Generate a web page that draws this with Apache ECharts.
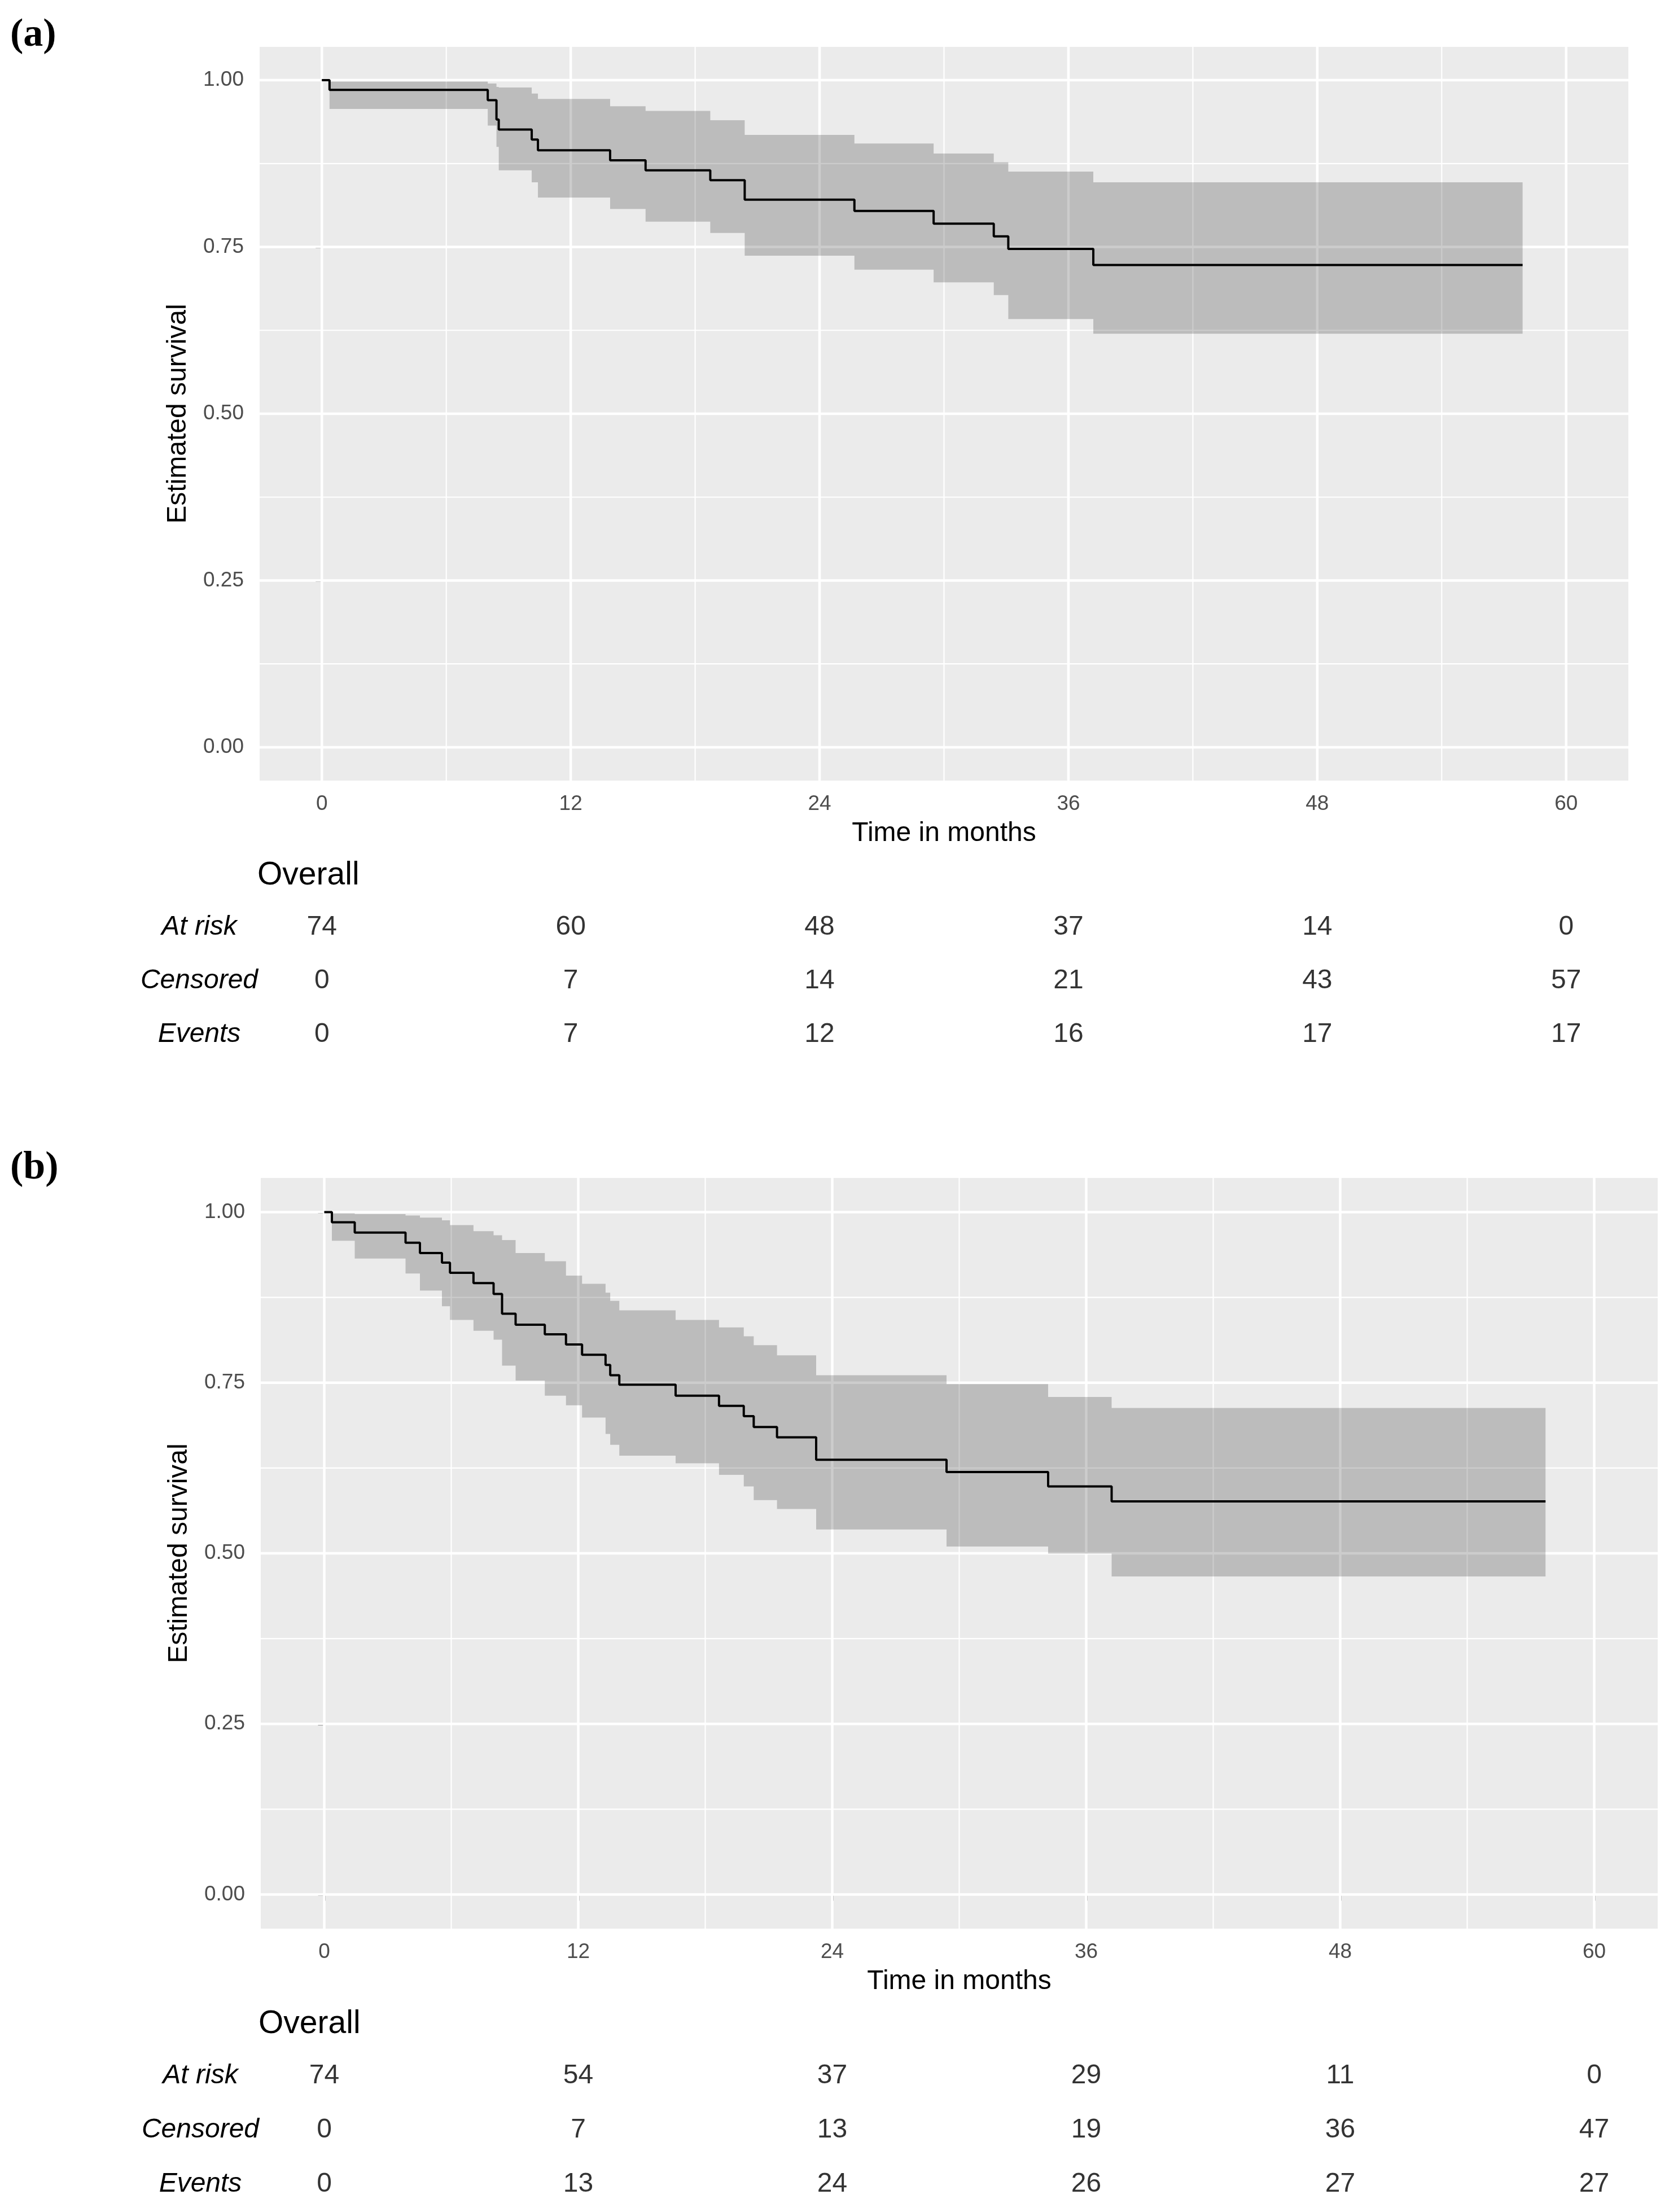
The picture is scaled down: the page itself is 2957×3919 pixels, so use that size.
<!DOCTYPE html>
<html>
<head>
<meta charset="utf-8">
<script src="https://cdn.jsdelivr.net/npm/echarts@6/dist/echarts.min.js"></script>
<style>
  html, body { margin: 0; padding: 0; background: #fff; }
  #chart { width: 2957px; height: 3919px; }
</style>
</head>
<body>
<div id="chart"></div>
<script>
// (a) Kaplan-Meier steps
const timeA  = [0, 0.37, 8.0, 8.42, 8.53, 10.12, 10.42, 13.9, 15.61, 18.73, 20.39, 25.68, 29.5, 32.4, 33.1, 37.2, 57.9];
const survA  = [1, 0.9855, 0.970, 0.941, 0.926, 0.911, 0.895, 0.880, 0.865, 0.850, 0.821, 0.804, 0.785, 0.766, 0.747, 0.723, 0.723];
const upperA = [1, 0.998, 0.995, 0.990, 0.989, 0.980, 0.972, 0.961, 0.954, 0.940, 0.918, 0.905, 0.890, 0.877, 0.863, 0.847, 0.847];
const lowerA = [1, 0.957, 0.932, 0.900, 0.865, 0.847, 0.824, 0.807, 0.788, 0.771, 0.737, 0.716, 0.697, 0.678, 0.642, 0.620, 0.620];

// (b)
const timeB  = [0, 0.36, 1.44, 3.84, 4.52, 5.56, 5.94, 7.05, 8.0, 8.4, 9.04, 10.42, 11.42, 12.18, 13.29, 13.51, 13.94, 16.6, 18.65, 19.82, 20.29, 21.39, 23.24, 29.4, 34.2, 37.2, 57.7];
const survB  = [1, 0.985, 0.970, 0.955, 0.940, 0.926, 0.911, 0.896, 0.880, 0.851, 0.835, 0.821, 0.806, 0.791, 0.776, 0.761, 0.747, 0.731, 0.716, 0.701, 0.685, 0.670, 0.637, 0.619, 0.598, 0.576, 0.576];
const upperB = [1, 0.998, 0.997, 0.995, 0.992, 0.988, 0.981, 0.972, 0.966, 0.959, 0.940, 0.928, 0.907, 0.895, 0.882, 0.870, 0.856, 0.842, 0.831, 0.818, 0.805, 0.790, 0.761, 0.748, 0.729, 0.713, 0.713];
const lowerB = [1, 0.958, 0.932, 0.910, 0.885, 0.862, 0.842, 0.826, 0.813, 0.775, 0.753, 0.731, 0.717, 0.699, 0.675, 0.659, 0.643, 0.632, 0.615, 0.598, 0.578, 0.565, 0.535, 0.510, 0.4995, 0.466, 0.466];

// risk tables
const riskTimes = [0, 12, 24, 36, 48, 60];
const tableRows = ['At risk', 'Censored', 'Events'];
const atRiskA   = [74, 60, 48, 37, 14, 0];
const censoredA = [0, 7, 14, 21, 43, 57];
const eventsA   = [0, 7, 12, 16, 17, 17];
const atRiskB   = [74, 54, 37, 29, 11, 0];
const censoredB = [0, 7, 13, 19, 36, 47];
const eventsB   = [0, 13, 24, 26, 27, 27];

// axis ticks
const xTicks = [0, 12, 24, 36, 48, 60];
const xMinor = [6, 18, 30, 42, 54];
const yTicks = [0, 0.25, 0.5, 0.75, 1];
const yMinor = [0.125, 0.375, 0.625, 0.875];

const FONT = 'Liberation Sans';
const X_MIN = -3, X_MAX = 63, Y_MIN = -0.05, Y_MAX = 1.05;

const panels = [
  {
    tag: '(a)', tagTop: 28, overallTop: 1553,
    plot: { left: 460, top: 83, width: 2425, height: 1300 },
    table: { left: 460, top: 1595, width: 2425, height: 285 },
    time: timeA, surv: survA, upper: upperA, lower: lowerA,
    risk: [atRiskA, censoredA, eventsA]
  },
  {
    tag: '(b)', tagTop: 2035, overallTop: 3588,
    plot: { left: 462, top: 2087, width: 2475, height: 1330 },
    table: { left: 462, top: 3630, width: 2475, height: 288 },
    time: timeB, surv: survB, upper: upperB, lower: lowerB,
    risk: [atRiskB, censoredB, eventsB]
  }
];

// white major/minor grid lines, drawn under the band
function gridRender(params, api) {
  const v = api.value(0), major = api.value(1), vertical = api.value(2);
  const a = vertical ? api.coord([v, Y_MIN]) : api.coord([X_MIN, v]);
  const b = vertical ? api.coord([v, Y_MAX]) : api.coord([X_MAX, v]);
  return {
    type: 'line',
    shape: { x1: a[0], y1: a[1], x2: b[0], y2: b[1] },
    style: { stroke: '#ffffff', lineWidth: major ? 4.5 : 2.2 }
  };
}

// stepped confidence band as one polygon
function bandRender(time, upper, lower) {
  return function (params, api) {
    if (params.dataIndex !== 0) return null;
    const pts = [];
    for (let i = 0; i < time.length - 1; i++) {
      pts.push(api.coord([time[i], upper[i]]), api.coord([time[i + 1], upper[i]]));
    }
    for (let i = time.length - 2; i >= 0; i--) {
      pts.push(api.coord([time[i + 1], lower[i]]), api.coord([time[i], lower[i]]));
    }
    return { type: 'polygon', shape: { points: pts }, style: { fill: 'rgba(0,0,0,0.2)' } };
  };
}

const gridData = []
  .concat(xTicks.map(v => [v, 1, 1]), xMinor.map(v => [v, 0, 1]))
  .concat(yTicks.map(v => [v, 1, 0]), yMinor.map(v => [v, 0, 0]));

const option = {
  animation: false,
  backgroundColor: '#ffffff',
  textStyle: { fontFamily: FONT },
  grid: [], xAxis: [], yAxis: [], series: [], graphic: []
};

panels.forEach(p => {
  const gi = option.grid.length;
  option.grid.push(Object.assign({ show: true, backgroundColor: '#EBEBEB', borderWidth: 0 }, p.plot));
  option.grid.push(Object.assign({ show: false }, p.table));

  option.xAxis.push({
    gridIndex: gi, type: 'value', min: X_MIN, max: X_MAX,
    name: 'Time in months', nameLocation: 'middle', nameGap: 70,
    nameTextStyle: { fontSize: 48, color: '#000000', fontFamily: FONT },
    axisLine: { show: false },
    axisTick: { show: true, customValues: xTicks, length: 11, lineStyle: { color: '#333333', width: 4 } },
    axisLabel: { customValues: xTicks, margin: 23, fontSize: 37, color: '#4D4D4D', fontFamily: FONT },
    splitLine: { show: false }
  });
  option.xAxis.push({ gridIndex: gi + 1, type: 'value', min: X_MIN, max: X_MAX, show: false });

  option.yAxis.push({
    gridIndex: gi, type: 'value', min: Y_MIN, max: Y_MAX,
    name: 'Estimated survival', nameLocation: 'middle', nameRotate: 90, nameGap: 120,
    nameTextStyle: { fontSize: 48, color: '#000000', fontFamily: FONT },
    axisLine: { show: false },
    axisTick: { show: true, customValues: yTicks, length: 11, lineStyle: { color: '#333333', width: 4 } },
    axisLabel: { customValues: yTicks, formatter: v => v.toFixed(2), margin: 28, fontSize: 37, color: '#4D4D4D', fontFamily: FONT },
    splitLine: { show: false }
  });
  option.yAxis.push({
    gridIndex: gi + 1, type: 'category', data: tableRows, inverse: true,
    axisLine: { show: false }, axisTick: { show: false }, splitLine: { show: false },
    axisLabel: { fontSize: 48, fontStyle: 'italic', color: '#000000', align: 'center', margin: 107, fontFamily: FONT }
  });

  option.series.push({
    type: 'custom', xAxisIndex: gi, yAxisIndex: gi, z: 1, silent: true,
    data: gridData, encode: { x: 0, y: 1 }, renderItem: gridRender
  });
  option.series.push({
    type: 'custom', xAxisIndex: gi, yAxisIndex: gi, z: 2, silent: true,
    data: p.time.map((t, i) => [t, p.lower[i], p.upper[i]]),
    encode: { x: 0, y: [1, 2] },
    renderItem: bandRender(p.time, p.upper, p.lower)
  });
  option.series.push({
    type: 'line', xAxisIndex: gi, yAxisIndex: gi, z: 3, step: 'end',
    showSymbol: false, symbol: 'none',
    data: p.time.map((t, i) => [t, p.surv[i]]),
    lineStyle: { color: '#000000', width: 4 }
  });

  tableRows.forEach((row, r) => {
    option.series.push({
      type: 'scatter', xAxisIndex: gi + 1, yAxisIndex: gi + 1,
      symbolSize: 2, itemStyle: { color: 'rgba(0,0,0,0)' },
      data: riskTimes.map((t, j) => [t, row, p.risk[r][j]]),
      label: { show: true, position: 'inside', formatter: q => String(q.value[2]), fontSize: 48, color: '#000000', fontFamily: FONT }
    });
  });

  option.graphic.push({
    type: 'text', left: 18, top: p.tagTop,
    style: { text: p.tag, font: 'bold 70px "Liberation Serif"', fill: '#000000' }
  });
  option.graphic.push({
    type: 'text', left: p.plot.left - 4, top: p.overallTop - 30,
    style: { text: 'Overall', font: '57px "Liberation Sans"', fill: '#000000' }
  });
});

const chart = echarts.init(document.getElementById('chart'));
chart.setOption(option);
</script>
</body>
</html>
